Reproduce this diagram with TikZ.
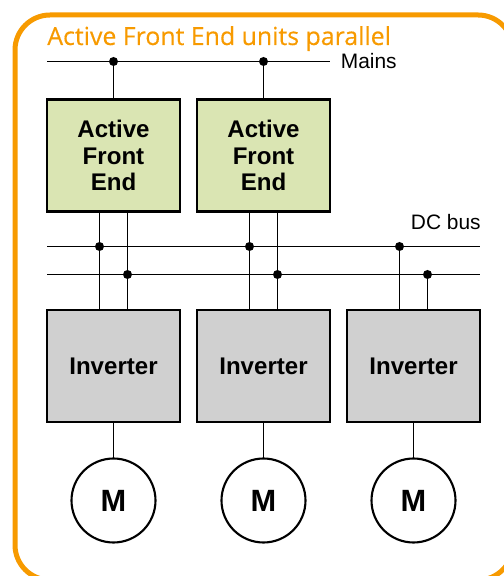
\documentclass[tikz,border=0pt]{standalone}
\usepackage{fontspec}
\setmainfont{Liberation Sans}
\newfontfamily\titlefont[FakeBold=0.35]{Open Sans}
\definecolor{frameorange}{HTML}{F79A00}
\definecolor{afegreen}{HTML}{DAE5B3}
\definecolor{invgray}{HTML}{D0D0D0}
\tikzset{
	wire/.style={line width=0.8pt, color=black},
	afebox/.style={draw, line width=1.4pt, fill=afegreen, minimum width=2.66cm, minimum height=2.24cm, align=center, inner sep=0pt, outer sep=0pt, font=\fontsize{13.7}{15.3}\selectfont\bfseries},
	invbox/.style={draw, line width=1.4pt, fill=invgray, minimum width=2.66cm, minimum height=2.24cm, inner sep=0pt, outer sep=0pt, font=\fontsize{13.7}{15.3}\selectfont\bfseries},
	motor/.style={draw, circle, line width=1.2pt, minimum size=1.68cm, inner sep=0pt, outer sep=0pt, font=\fontsize{17.5}{18}\selectfont\bfseries},
	dot/.style={circle, fill=black, minimum size=0.18cm, inner sep=0pt, outer sep=0pt},
	wirelabel/.style={inner sep=0pt, font=\fontsize{11.9}{14}\selectfont}
}

\begin{document}
\begin{tikzpicture}
	\useasboundingbox (0, 0) rectangle (10.08, 11.52);

	%%%%% frame %%%%%
	\begin{scope}
		\clip (0, 0) rectangle (10.08, 11.52);
		\draw[line width=0.1cm, color=frameorange, rounded corners=0.7cm] (0.30, -0.08) rectangle (10.26, 11.22);
	\end{scope}
	\node[anchor=base west, inner sep=0pt, color=frameorange, font=\titlefont\fontsize{14.15}{15}\selectfont] (title) at (0.94, 10.62) {Active Front End units parallel};

	%%%%% blocks %%%%%
	\node[afebox] (afeA) at (2.27, 8.41) {Active\\Front\\End};
	\node[afebox] (afeB) at (5.27, 8.41) {Active\\Front\\End};

	\node[invbox] (invA) at (2.27, 4.20) {Inverter};
	\node[invbox] (invB) at (5.27, 4.20) {Inverter};
	\node[invbox] (invC) at (8.27, 4.20) {Inverter};

	\node[motor] (motA) at (2.27, 1.51) {M};
	\node[motor] (motB) at (5.27, 1.51) {M};
	\node[motor] (motC) at (8.27, 1.51) {M};

	\draw[wire] (invA) -- (motA);
	\draw[wire] (invB) -- (motB);
	\draw[wire] (invC) -- (motC);

	%%%%% mains %%%%%
	\coordinate (mainsL) at (0.94, 10.29);
	\coordinate (mainsR) at (6.60, 10.29);
	\node[wirelabel, anchor=west] (mainsText) at (6.81, 10.29) {Mains};
	\node[dot] (mainsA) at (2.27, 10.29) {};
	\node[dot] (mainsB) at (5.27, 10.29) {};
	\draw[wire] (mainsL) -- (mainsR);
	\draw[wire] (mainsA) -- (afeA);
	\draw[wire] (mainsB) -- (afeB);

	%%%%% DC bus %%%%%
	\coordinate (busTopL) at (0.94, 6.59);
	\coordinate (busTopR) at (9.60, 6.59);
	\coordinate (busLowL) at (0.94, 6.03);
	\coordinate (busLowR) at (9.60, 6.03);
	\node[wirelabel, anchor=base east] (busText) at (9.62, 6.92) {DC bus};
	\draw[wire] (busTopL) -- (busTopR);
	\draw[wire] (busLowL) -- (busLowR);

	\node[dot] (topA) at (1.99, 6.59) {};
	\node[dot] (lowA) at (2.55, 6.03) {};
	\node[dot] (topB) at (4.99, 6.59) {};
	\node[dot] (lowB) at (5.55, 6.03) {};
	\node[dot] (topC) at (7.99, 6.59) {};
	\node[dot] (lowC) at (8.55, 6.03) {};

	\draw[wire] (topA |- afeA.south) -- (topA |- invA.north);
	\draw[wire] (lowA |- afeA.south) -- (lowA |- invA.north);
	\draw[wire] (topB |- afeB.south) -- (topB |- invB.north);
	\draw[wire] (lowB |- afeB.south) -- (lowB |- invB.north);
	\draw[wire] (topC) -- (topC |- invC.north);
	\draw[wire] (lowC) -- (lowC |- invC.north);
\end{tikzpicture}
\end{document}
